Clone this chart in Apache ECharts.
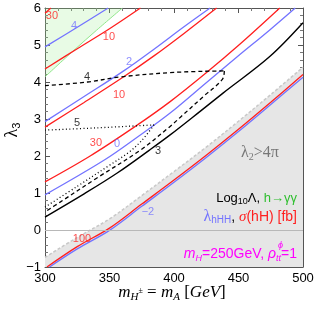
<!DOCTYPE html>
<html><head><meta charset="utf-8">
<script src="https://cdn.jsdelivr.net/npm/echarts@6/dist/echarts.min.js"></script>
<style>html,body{margin:0;padding:0;background:#fff}#c{width:316px;height:312px}</style>
</head><body><div id="c"></div>
<script>
// axis ranges / ticks
const xRange = [300, 500], xStep = 50;
const yRange = [-1, 6], yStep = 1;

// contour curves [m_A (GeV), lambda_3]
const red30a = [[300,5.86],[304.5,6.0]];
const blue4 = [[300,4.95],[325,5.48],[349,6.0]];
const greenHgg = [[300,4.14],[322.5,4.86],[340,5.4],[360,6.0]];
const red10a = [[300,4.35],[325,4.9],[350,5.44],[374,6.0]];
const blue2 = [[300,2.93],[330,3.6],[361,4.3],[385,4.9],[408,5.5],[428,6.0]];
const red10b = [[300,2.78],[330,3.44],[361,4.14],[385,4.72],[408,5.32],[433,6.0]];
const red30b = [[300,1.3],[335,2.0],[370,2.8],[397,3.47],[425,4.25],[451,5.02],[482,6.0]];
const blue0 = [[300,0.95],[346,1.89],[372,2.52],[397,3.16],[425,3.98],[449,4.68],[474,5.4],[494,6.0]];
const black3 = [[300,0.35],[330,0.97],[356,1.54],[381,2.16],[397,2.57],[420,3.2],[438,3.7],[474,4.68],[500,5.6]];
const dash4Upper = [[300,3.9],[333,4.0],[359,4.14],[400,4.26],[439,4.3]];
const dash4Lower = [[439,4.3],[437.5,4.07],[422.5,3.6],[405,3.05],[397,2.8],[374,2.16],[340,1.4],[312,0.76],[300,0.49]];
const dot5Upper = [[300,2.70],[340,2.76],[384.5,2.84]];
const dot5Lower = [[384.5,2.84],[375,2.42],[365,2.1],[350,1.75],[325,1.18],[300,0.62]];
const red100 = [[301.5,-1],[325,-0.45],[350,0.05],[375,0.7],[400,1.35],[425,2.02],[450,2.72],[475,3.45],[500,4.2]];
const blueM2 = [[303.5,-1],[325,-0.51],[350,-0.01],[375,0.64],[400,1.29],[425,1.96],[450,2.66],[475,3.39],[500,4.13]];
const lambda2Bound = [[300,-0.74],[325,-0.2],[350,0.3],[375,0.93],[400,1.58],[425,2.24],[450,2.94],[475,3.66],[500,4.4]];

// contour labels [m_A, lambda_3, text]
const redLabels = [[305.4,5.78,'30'],[349.6,5.22,'10'],[357.4,3.65,'10'],[339.5,2.35,'30'],[328.7,-0.24,'100']];
const blueLabels = [[322.5,5.51,'4'],[365.1,4.54,'2'],[355.8,2.33,'0'],[379.8,0.49,'\u22122']];
const blackLabels = [[332.6,4.14,'4'],[324.8,2.89,'5'],[387.6,2.14,'3']];

const RED = '#ff1f1f', BLUE = '#7373ff', BLACK = '#000', GREEN = '#8fe68a', MAG = '#ff00ff';
const SANS = '"Liberation Sans", Arial, sans-serif';
const SERIF = '"Liberation Serif", "Times New Roman", serif';

function line(data, color, type, width, extra) {
  return Object.assign({
    type: 'line', data: data, symbol: 'none', smooth: 0.35, silent: true, animation: false,
    lineStyle: { color: color, width: width, type: type }, z: 3
  }, extra || {});
}
function labels(arr, color) {
  return {
    type: 'scatter', silent: true, animation: false, symbolSize: 0, itemStyle: { color: 'rgba(0,0,0,0)' }, z: 6,
    data: arr.map(d => ({ value: [d[0], d[1]], label: { formatter: d[2] } })),
    label: { show: true, position: 'inside', color: color, fontSize: 11, fontFamily: SANS }
  };
}
const axisCommon = {
  type: 'value',
  axisLine: { show: true, onZero: false, lineStyle: { color: '#555', width: 1 } },
  axisTick: { show: true, inside: true, length: 5, lineStyle: { color: '#555' } },
  minorTick: { show: true, splitNumber: 5, length: 3, lineStyle: { color: '#777' } },
  splitLine: { show: false }, minorSplitLine: { show: false }
};
function xAx(pos, showLabel) {
  return Object.assign({}, axisCommon, {
    position: pos, min: xRange[0], max: xRange[1], interval: xStep,
    axisLabel: { show: showLabel, color: '#000', fontSize: 13, fontFamily: SANS, margin: 5 }
  });
}
function yAx(pos, showLabel) {
  return Object.assign({}, axisCommon, {
    position: pos, min: yRange[0], max: yRange[1], interval: yStep,
    axisLabel: { show: showLabel, color: '#000', fontSize: 13, fontFamily: SANS, margin: 4,
      formatter: v => (v < 0 ? '\u2212' + Math.abs(v) : String(v)) }
  });
}

const chart = echarts.init(document.getElementById('c'), null, { renderer: 'canvas' });
chart.setOption({
  animation: false,
  backgroundColor: '#fff',
  grid: { left: 45, right: 13, top: 8, bottom: 45, containLabel: false, outerBoundsMode: 'none' },
  xAxis: [xAx('bottom', true), xAx('top', false)],
  yAxis: [yAx('left', true), yAx('right', false)],
  series: [
    line(lambda2Bound, '#c8c8c8', [3, 2], 1.5, { z: 1, areaStyle: { color: '#e6e6e6', origin: 'start', opacity: 1 } }),
    line(greenHgg, GREEN, 'solid', 1, { z: 2, areaStyle: { color: 'rgba(150,235,140,0.32)', origin: 'end' },
      markLine: { silent: true, symbol: 'none', label: { show: false }, animation: false,
        lineStyle: { color: '#b8b8b8', width: 1, type: 'solid' }, data: [{ yAxis: 0 }] } }),
    line(red30a, RED, 'solid', 1.3),
    line(blue4, BLUE, 'solid', 1.3),
    line(red10a, RED, 'solid', 1.3),
    line(blue2, BLUE, 'solid', 1.3),
    line(red10b, RED, 'solid', 1.3),
    line(red30b, RED, 'solid', 1.3),
    line(blue0, BLUE, 'solid', 1.3),
    line(black3, BLACK, 'solid', 1.4),
    line(dash4Upper, BLACK, [4, 3], 1.3),
    line(dash4Lower, BLACK, [4, 3], 1.3),
    line(dot5Upper, BLACK, [1, 2.5], 1.3),
    line(dot5Lower, BLACK, [1, 2.5], 1.3),
    line(blueM2, BLUE, 'solid', 1.3),
    line(red100, RED, 'solid', 1.3),
    labels(redLabels, RED),
    labels(blueLabels, BLUE),
    labels(blackLabels, BLACK)
  ],
  graphic: [
    { type: 'text', x: 260, y: 153, z: 100, silent: true, style: {
      text: '{l|λ}{s|2}{l|>4π}', align: 'center', verticalAlign: 'middle',
      rich: { l: { fill: '#777', fontSize: 16, fontFamily: SERIF, lineHeight: 18 },
              s: { fill: '#777', fontSize: 10, fontFamily: SERIF, lineHeight: 10, verticalAlign: 'bottom' } } } },
    { type: 'text', x: 297, y: 198, z: 100, silent: true, style: {
      text: '{k|Log}{s|10}{k|Λ,}{g| h→γγ}', align: 'right', verticalAlign: 'middle',
      rich: { k: { fill: '#000', fontSize: 13, fontFamily: SANS, lineHeight: 16 },
              s: { fill: '#000', fontSize: 9, fontFamily: SANS, lineHeight: 9, verticalAlign: 'bottom' },
              g: { fill: '#2fbf2f', fontSize: 13, fontFamily: SANS, lineHeight: 16 } } } },
    { type: 'text', x: 297, y: 217, z: 100, silent: true, style: {
      text: '{l|λ}{s|hHH}{k|, }{r|σ}{rk|(hH) [fb]}', align: 'right', verticalAlign: 'middle',
      rich: { l: { fill: BLUE, fontSize: 16, fontFamily: SERIF, lineHeight: 17 },
              s: { fill: BLUE, fontSize: 10, fontFamily: SANS, lineHeight: 10, verticalAlign: 'bottom' },
              k: { fill: '#000', fontSize: 14, fontFamily: SANS, lineHeight: 17 },
              r: { fill: RED, fontSize: 15, fontFamily: SERIF, fontStyle: 'italic', lineHeight: 17 },
              rk: { fill: RED, fontSize: 14, fontFamily: SANS, lineHeight: 17 } } } },
    { type: 'text', x: 297, y: 254, z: 100, silent: true, style: {
      text: '{i|m}{s|H}{m|=250GeV, }{i|ρ}{s|tt}{m|=1}', align: 'right', verticalAlign: 'middle',
      rich: { i: { fill: MAG, fontSize: 14, fontFamily: SANS, fontStyle: 'italic', lineHeight: 17 },
              s: { fill: MAG, fontSize: 9, fontFamily: SANS, fontStyle: 'italic', lineHeight: 9, verticalAlign: 'bottom' },
              m: { fill: MAG, fontSize: 14, fontFamily: SANS, lineHeight: 17 } } } },
    { type: 'text', x: 278, y: 245, z: 100, silent: true, style: {
      text: 'ϕ', align: 'left', verticalAlign: 'middle', fill: MAG, fontSize: 9, fontFamily: SANS, fontStyle: 'italic' } },
    { type: 'text', x: 172, y: 293, z: 100, silent: true, style: {
      text: '{i|m}{s|H}{p|±}{n| = }{i|m}{s|A}{n| [}{i|GeV}{n|]}', align: 'center', verticalAlign: 'middle',
      rich: { i: { fill: '#000', fontSize: 17, fontFamily: SERIF, fontStyle: 'italic', lineHeight: 20 },
              s: { fill: '#000', fontSize: 11, fontFamily: SERIF, fontStyle: 'italic', lineHeight: 11, verticalAlign: 'bottom' },
              p: { fill: '#000', fontSize: 8, fontFamily: SERIF, lineHeight: 20, verticalAlign: 'top', padding: [4, 0, 0, 0] },
              n: { fill: '#000', fontSize: 17, fontFamily: SERIF, lineHeight: 20 } } } },
    { type: 'text', x: 12, y: 130, rotation: Math.PI / 2, z: 100, silent: true, style: {
      text: '{l|λ}{s|3}', align: 'center', verticalAlign: 'middle',
      rich: { l: { fill: '#000', fontSize: 18, fontFamily: SERIF, lineHeight: 20 },
              s: { fill: '#000', fontSize: 11, fontFamily: SANS, lineHeight: 11, verticalAlign: 'bottom' } } } }
  ]
});
</script></body></html>
